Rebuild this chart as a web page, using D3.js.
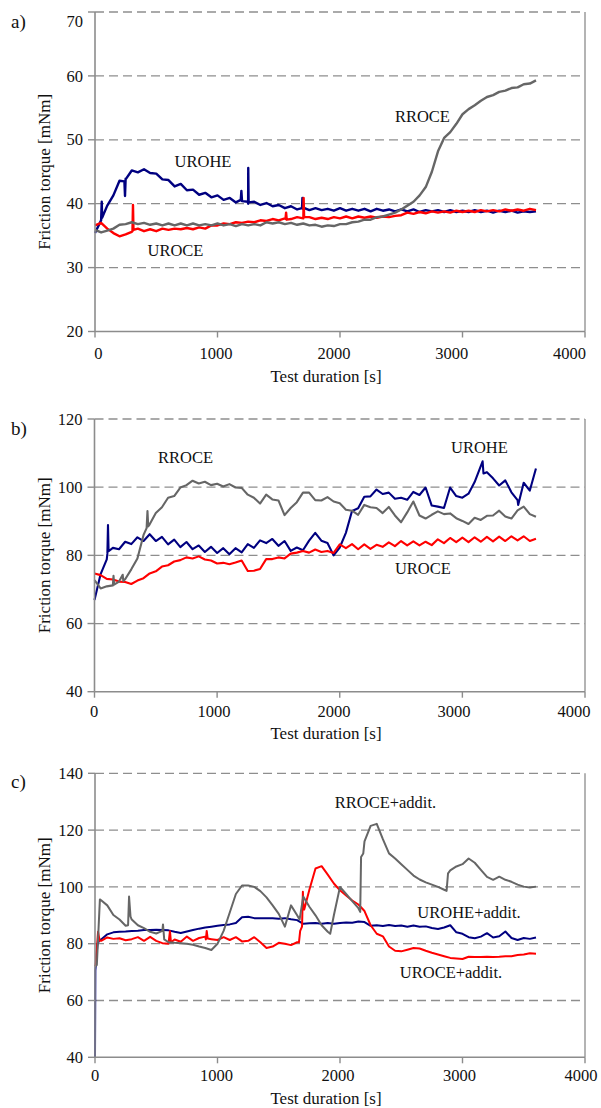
<!DOCTYPE html>
<html><head><meta charset="utf-8">
<script src="https://cdn.jsdelivr.net/npm/d3@7"></script>
<style>body{margin:0;background:#fff}svg{display:block}text{font-family:"Liberation Serif","Times New Roman",serif;fill:#111}</style>
</head><body>
<svg id="chart" width="601" height="1108" font-family="Liberation Serif, Times New Roman, serif"></svg>
<script>
// ---------- DATA ----------
const times = [0,50,100,150,200,250,300,350,400,450,500,550,600,650,700,750,800,850,900,950,1000,1050,1100,1150,1200,1250,1300,1350,1400,1450,1500,1550,1600,1650,1700,1750,1800,1850,1900,1950,2000,2050,2100,2150,2200,2250,2300,2350,2400,2450,2500,2550,2600,2650,2700,2750,2800,2850,2900,2950,3000,3050,3100,3150,3200,3250,3300,3350,3400,3450,3500,3550,3600];
const xTicks = [0,1000,2000,3000,4000];

// panel a
const yTicksA = [20,30,40,50,60,70];
const uroheA = [35.4,37.4,39.7,41.3,43.6,43.9,45.2,44.9,45.4,44.8,44.7,43.8,43.7,42.7,43.1,42.1,42.2,41.4,41.7,41.0,41.3,40.6,40.9,40.2,40.5,40.0,40.3,39.8,40.1,39.6,39.8,39.3,39.6,39.1,39.4,39.0,39.3,39.0,39.2,38.9,39.3,38.9,39.2,38.9,39.2,38.8,39.2,38.9,39.1,38.8,39.1,38.8,39.1,38.7,39.0,38.8,39.0,38.7,39.0,38.7,38.9,38.7,39.0,38.7,38.9,38.6,38.9,38.7,38.9,38.6,38.8,38.7,38.8];
const uroheAExtra = [[55,40.3],[58,37.8],[240,43.5],[245,41.2],[250,43.8],[1190,40.6],[1195,42.0],[1200,40.4],[1248,40.3],[1251,45.6],[1254,40.2],[1690,39.3],[1693,40.9],[1697,39.2]];
const uroceA = [36.6,37.0,36.1,35.4,34.9,35.2,35.6,36.1,35.7,36.0,35.7,36.1,35.9,36.1,36.0,36.2,36.0,36.3,36.1,36.6,36.6,36.9,36.8,37.1,37.0,37.2,37.1,37.4,37.3,37.6,37.4,37.7,37.6,37.9,37.7,37.9,37.6,37.8,37.6,37.9,37.7,38.0,37.7,38.0,37.8,38.0,37.8,38.0,37.9,38.1,38.2,38.6,38.4,38.7,38.5,38.8,38.6,38.8,38.6,38.9,38.7,38.9,38.7,39.0,38.8,39.0,38.8,39.1,38.9,39.1,38.9,39.2,39.0];
const uroceAExtra = [[306,35.7],[310,39.8],[314,35.9],[1555,37.6],[1560,38.6],[1565,37.5],[1701,37.8],[1703,40.9],[1707,37.9]];
const rroceA = [35.9,35.5,35.8,36.1,36.7,36.8,37.1,36.8,37.0,36.7,36.9,36.6,36.9,36.6,36.9,36.6,36.9,36.6,36.8,36.6,36.9,36.6,36.8,36.5,36.8,36.6,36.8,36.6,37.1,36.9,37.1,36.8,37.0,36.7,36.9,36.6,36.7,36.4,36.6,36.5,36.8,36.8,37.1,37.2,37.5,37.5,37.9,38.0,38.3,38.6,39.1,39.7,40.3,41.3,42.6,45.0,48.2,50.3,51.2,52.5,54.0,54.8,55.4,56.1,56.7,57.0,57.5,57.7,58.1,58.2,58.7,58.8,59.3];
const rroceAExtra = [];

// panel b
const yTicksB = [40,60,80,100,120];
const uroheB = [66.9,74.5,78.8,82.2,81.8,84.0,83.3,85.3,84.2,86.2,84.2,85.4,83.2,84.6,82.4,83.9,81.8,82.9,81.0,82.5,80.7,82.1,80.3,82.1,80.9,83.3,82.2,84.4,83.6,84.8,82.8,84.2,81.3,82.3,81.5,84.3,86.6,84.3,83.6,80.0,82.3,86.6,93.0,93.8,97.2,97.3,99.3,98.0,98.4,96.6,96.9,96.3,98.6,97.7,99.9,94.6,94.3,93.9,99.9,97.4,96.9,98.1,101.5,106.2,104.4,102.6,100.5,102.0,98.5,96.2,101.3,99.0,105.5];
const uroheBExtra = [[105,80.5],[110,88.9],[115,81.2],[3165,107.6],[3172,104.0],[3455,94.8]];
const uroceB = [74.7,74.2,73.1,72.9,72.3,72.2,71.6,72.6,73.3,74.7,75.3,76.7,77.1,78.2,78.6,79.4,79.1,79.7,78.8,78.5,77.6,77.8,77.4,77.9,78.5,75.4,75.5,76.0,78.9,78.9,79.4,79.1,80.5,80.8,81.3,80.8,81.7,81.0,81.3,80.7,83.2,82.1,83.3,81.8,83.2,81.9,83.1,82.5,83.8,82.7,84.2,82.9,84.1,82.9,84.0,83.0,84.7,83.6,85.1,83.9,85.2,83.9,85.3,84.0,85.4,84.1,85.5,84.2,85.6,84.4,85.6,84.2,84.9];
const uroceBExtra = [];
const rroceB = [72.7,70.3,70.9,71.2,72.3,73.0,75.9,79.1,86.0,89.1,92.4,94.1,96.9,97.4,99.9,100.6,101.9,101.1,101.6,100.6,101.0,100.2,100.9,99.9,99.8,97.8,96.9,95.2,97.8,96.4,96.1,91.8,93.9,95.6,98.4,98.4,96.2,96.1,97.1,95.8,95.3,93.4,93.1,91.9,94.8,94.1,93.9,92.4,94.2,91.7,89.7,92.6,95.8,91.7,90.8,91.9,92.9,92.1,92.3,90.9,90.1,89.2,91.0,90.4,91.6,91.7,93.1,91.4,90.8,93.2,94.3,92.1,91.3];
const rroceBExtra = [[155,74.0],[160,71.4],[230,74.3],[235,72.5],[425,88.0],[432,93.0],[438,88.5]];

// panel c
const yTicksC = [40,60,80,100,120,140];
const uroheC = [40.0,81.5,83.3,84.0,84.2,84.3,84.5,84.6,84.8,84.8,84.9,84.8,84.7,84.2,83.8,84.3,84.8,85.3,85.7,86.0,86.3,86.6,86.8,87.3,89.3,89.5,89.0,89.0,89.0,89.0,88.8,89.0,88.6,88.3,87.0,87.2,87.3,87.0,87.3,87.0,87.3,87.5,87.4,87.8,87.6,86.3,86.5,86.2,86.6,86.2,86.4,86.0,86.4,86.0,86.1,85.5,85.2,85.7,86.5,84.0,83.5,82.3,81.9,82.5,83.7,82.2,82.6,84.3,82.0,81.3,82.0,81.7,82.2];
const uroheCExtra = [[3,70.5],[20,79.8],[35,81.2]];
const uroceC = [72.0,81.0,82.2,81.7,81.9,81.2,81.6,82.3,81.0,82.4,81.0,80.2,80.0,81.5,80.7,82.5,81.0,82.0,82.5,81.6,81.3,82.3,81.3,82.3,80.8,81.0,82.3,80.5,78.5,79.0,80.3,80.0,79.5,80.5,94.2,99.0,106.5,107.3,104.3,101.2,98.8,97.0,95.2,93.8,91.5,86.5,83.5,82.6,79.0,77.5,77.3,77.9,78.5,78.3,77.5,76.8,76.2,75.6,75.0,74.8,74.6,75.4,75.3,75.3,75.4,75.3,75.4,75.6,75.6,76.0,76.2,76.6,76.5];
const uroceCExtra = [[5,72.5],[25,84.2],[38,81.0],[612,84.4],[620,80.5],[905,81.5],[912,84.5],[920,81.8],[1665,80.5],[1675,84.5],[1690,86.0],[1697,98.3],[1708,92.0]];
const rroceC = [72.0,95.3,93.5,90.1,88.5,86.3,88.5,86.5,85.5,84.2,83.6,84.5,80.5,80.3,80.2,80.0,79.6,79.0,78.5,77.8,80.0,84.5,91.0,97.5,100.5,100.5,100.0,98.5,96.3,93.5,90.5,86.0,93.5,90.0,96.6,93.0,90.0,86.5,84.2,90.0,100.0,97.5,95.0,92.5,116.0,121.5,122.2,116.8,111.8,110.0,108.0,106.0,104.0,102.6,101.6,100.8,100.0,99.0,105.8,107.2,108.0,110.0,108.5,106.0,103.5,102.5,103.6,102.5,101.8,100.8,100.1,99.8,100.1];
const rroceCExtra = [[15,72.5],[40,95.6],[270,86.5],[278,96.6],[290,89.5],[555,86.8],[565,81.5],[1670,88.5],[1920,83.5],[2165,91.2],[2172,110.5],[2190,111.8],[2870,98.6],[2882,104.8]];

// annotations [text, time, torque]
const notesA = [["UROHE",882,45.7],["UROCE",657,31.8],["RROCE",2673,52.8]];
const notesB = [["RROCE",743,107.1],["UROHE",3139,110.0],["UROCE",2678,74.5]];
const notesC = [["RROCE+addit.",2371,127.8],["UROHE+addit.",3053,89.1],["UROCE+addit.",2906,67.9]];

const colUROHE = "#000080", colUROCE = "#ff0000", colRROCE = "#666666";

// ---------- LAYOUT ----------
const panels = [
  {letter:"a)", letterY:28, left:95, right:585, top:12, bottom:331.5, yDomain:[20,70], yTicks:yTicksA,
   labRange:[98.3,569.5], tickBase:359, titleBase:382, topShift:9.5, sw:2.4,
   series:[[uroheA,uroheAExtra,colUROHE],[uroceA,uroceAExtra,colUROCE],[rroceA,rroceAExtra,colRROCE]], notes:notesA},
  {letter:"b)", letterY:435, left:94.5, right:585, top:419, bottom:691.7, yDomain:[40,120], yTicks:yTicksB,
   labRange:[94,574], tickBase:717, titleBase:739, topShift:0, sw:2.1,
   series:[[uroheB,uroheBExtra,colUROHE],[uroceB,uroceBExtra,colUROCE],[rroceB,rroceBExtra,colRROCE]], notes:notesB},
  {letter:"c)", letterY:788, left:95, right:585, top:773.3, bottom:1057.3, yDomain:[40,140], yTicks:yTicksC,
   labRange:[95,581], tickBase:1081, titleBase:1104, topShift:0, sw:2.0,
   series:[[uroheC,uroheCExtra,colUROHE],[uroceC,uroceCExtra,colUROCE],[rroceC,rroceCExtra,colRROCE]], notes:notesC}
];

const svg = d3.select("#chart");
const axisCol = "#8c8c8c";
const FONT = "Liberation Serif, Times New Roman, serif";

function merge(vals, extra){
  const pts = vals.map((v,i)=>[times[i], v]).concat(extra);
  return pts.sort((a,b)=>a[0]-b[0]);
}

panels.forEach(p=>{
  const g = svg.append("g").attr("font-family",FONT);
  const x = d3.scaleLinear().domain([0,4000]).range([p.left,p.right]);
  const xl = d3.scaleLinear().domain([0,4000]).range(p.labRange);
  const y = d3.scaleLinear().domain(p.yDomain).range([p.bottom,p.top]);

  // grid
  g.selectAll(".grid").data(p.yTicks.slice(1)).join("line")
    .attr("x1",p.left).attr("x2",p.right)
    .attr("y1",d=>y(d)).attr("y2",d=>y(d))
    .attr("stroke","#8e8e8e").attr("stroke-width",1.3).attr("stroke-dasharray","9,5");
  // right border
  g.append("line").attr("x1",p.right).attr("x2",p.right).attr("y1",p.top).attr("y2",p.bottom)
    .attr("stroke",axisCol).attr("stroke-width",1.3);

  // series
  const line = d3.line().x(d=>x(d[0])).y(d=>y(d[1]));
  p.series.forEach(s=>{
    g.append("path").attr("d",line(merge(s[0],s[1])))
      .attr("fill","none").attr("stroke",s[2]).attr("stroke-width",p.sw)
      .attr("stroke-linejoin","round");
  });

  // axes
  g.append("line").attr("x1",p.left).attr("x2",p.left).attr("y1",p.top).attr("y2",p.bottom)
    .attr("stroke",axisCol).attr("stroke-width",1.6);
  g.append("line").attr("x1",p.left).attr("x2",p.right).attr("y1",p.bottom).attr("y2",p.bottom)
    .attr("stroke",axisCol).attr("stroke-width",1.6);
  g.selectAll(".yt").data(p.yTicks).join("line")
    .attr("x1",p.left-7).attr("x2",p.left).attr("y1",d=>y(d)).attr("y2",d=>y(d))
    .attr("stroke",axisCol).attr("stroke-width",1.4);
  g.selectAll(".xt").data(xTicks).join("line")
    .attr("x1",d=>x(d)).attr("x2",d=>x(d)).attr("y1",p.bottom).attr("y2",p.bottom+6)
    .attr("stroke",axisCol).attr("stroke-width",1.4);

  // tick labels
  const last = p.yTicks[p.yTicks.length-1];
  g.selectAll(".yl").data(p.yTicks).join("text")
    .attr("font-family",FONT)
    .attr("x",p.left-12).attr("y",d=>y(d)+(d===last?p.topShift:0)).attr("dy","0.34em")
    .attr("text-anchor","end").attr("font-size",16.5).text(d=>d);
  g.selectAll(".xl").data(xTicks).join("text")
    .attr("font-family",FONT)
    .attr("x",d=>xl(d)).attr("y",p.tickBase)
    .attr("text-anchor","middle").attr("font-size",16.5).text(d=>d);

  // titles
  g.append("text").attr("font-family",FONT).attr("x",326).attr("y",p.titleBase).attr("text-anchor","middle")
    .attr("font-size",17).text("Test duration [s]");
  g.append("text").attr("font-family",FONT).attr("transform",`translate(50,${(p.top+p.bottom)/2}) rotate(-90)`)
    .attr("text-anchor","middle").attr("font-size",17).text("Friction torque [mNm]");
  g.append("text").attr("font-family",FONT).attr("x",11).attr("y",p.letterY).attr("font-size",19).text(p.letter);

  // annotations
  g.selectAll(".note").data(p.notes).join("text")
    .attr("font-family",FONT)
    .attr("x",d=>x(d[1])).attr("y",d=>y(d[2])).attr("text-anchor","middle")
    .attr("font-size",16.5).text(d=>d[0]);
});
</script>
</body></html>
